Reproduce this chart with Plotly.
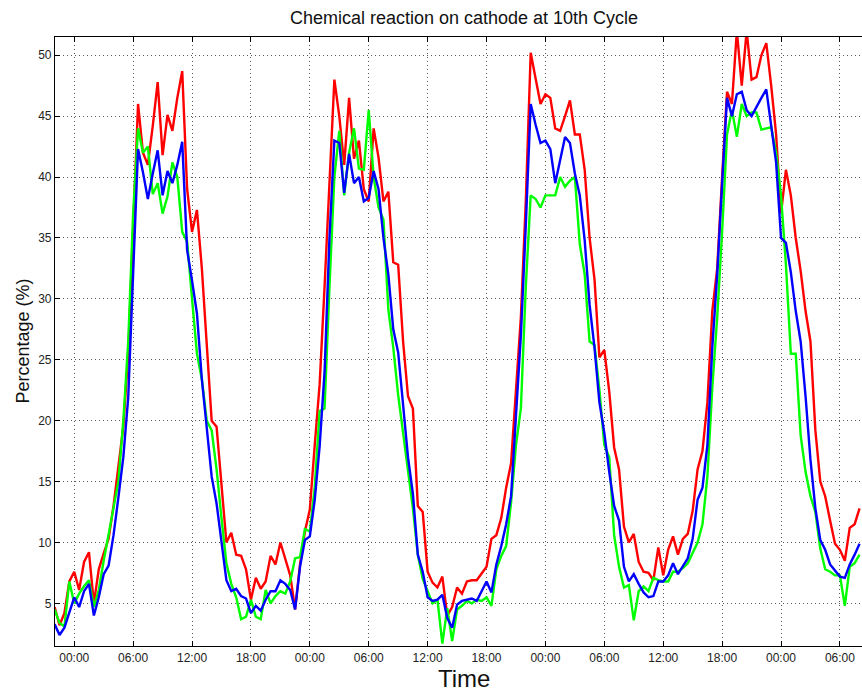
import pandas as pd
import plotly.graph_objects as go

# Time stamps: half-hourly samples starting 22:00 the day before the first 00:00 tick
start_time = "2013-01-01 22:00"
n_points = 165
times = pd.date_range(start=start_time, periods=n_points, freq="30min")

red_values = [
    4.7, 3.2, 4.2, 6.8, 7.6, 6.1, 8.4, 9.2, 5.0, 7.8,
    9.1, 10.3, 13.0, 16.5, 19.5, 25.5, 36.0, 46.0, 42.0, 41.0,
    44.2, 47.8, 41.8, 45.1, 43.8, 46.5, 48.7, 39.0, 35.5, 37.3,
    32.5, 26.5, 20.0, 19.5, 15.0, 10.0, 10.8, 9.0, 8.9, 7.8,
    5.3, 7.1, 6.2, 6.8, 8.9, 8.2, 10.0, 8.6, 7.3, 4.5,
    8.2, 10.9, 12.7, 18.0, 23.0, 31.0, 39.5, 48.0, 45.0, 41.0,
    46.5, 41.5, 43.0, 39.0, 38.0, 44.0, 41.6, 38.0, 38.8, 33.0,
    32.8, 26.5, 22.0, 21.0, 13.0, 12.5, 7.6, 6.7, 6.3, 7.2,
    4.0, 4.7, 6.3, 5.8, 6.8, 6.9, 6.9, 7.5, 8.0, 10.3,
    10.6, 12.0, 14.5, 16.5, 22.4, 28.5, 38.0, 50.2, 48.1, 46.0,
    46.8, 46.5, 44.0, 43.8, 45.0, 46.3, 43.5, 43.5, 40.6, 35.0,
    31.6, 25.2, 25.8, 22.4, 17.8, 16.0, 11.3, 10.0, 10.7, 8.4,
    7.6, 7.5, 6.9, 9.6, 7.3, 9.4, 10.5, 9.0, 10.3, 10.7,
    12.6, 16.0, 17.5, 21.5, 29.0, 32.5, 40.0, 47.0, 46.0, 52.0,
    47.5, 52.0, 48.0, 48.2, 50.0, 51.0, 47.5, 43.5, 37.0, 40.6,
    38.5, 35.0, 32.3, 29.0, 26.5, 19.2, 15.0, 13.8, 11.8, 9.9,
    9.4, 8.5, 11.2, 11.5, 12.8,
]

green_values = [
    4.5, 3.4, 3.1, 6.8, 5.0, 5.8, 6.4, 6.9, 4.7, 6.1,
    8.5, 10.6, 13.0, 15.0, 20.0, 26.5, 37.0, 44.0, 42.0, 42.5,
    38.6, 39.5, 37.0, 38.4, 41.2, 40.0, 35.5, 34.7, 30.0, 25.5,
    23.4, 20.0, 19.2, 16.0, 12.0, 8.3, 6.6, 5.5, 3.7, 3.9,
    5.3, 3.9, 3.7, 6.1, 5.0, 5.6, 6.0, 5.8, 6.8, 8.7,
    8.8, 11.1, 10.9, 14.5, 20.8, 21.0, 31.0, 40.0, 43.8, 38.5,
    42.0, 44.0, 40.7, 40.6, 45.5, 40.0, 37.5, 36.5, 29.1, 26.0,
    22.1, 19.0, 16.0, 12.8, 9.0, 7.0, 6.0, 5.0, 5.3, 1.7,
    4.6, 1.9, 4.5, 4.8, 5.2, 5.0, 5.3, 5.2, 5.5, 4.8,
    7.8, 8.9, 9.7, 13.3, 18.0, 21.0, 31.0, 38.5, 38.2, 37.5,
    38.5, 38.5, 38.5, 40.0, 39.2, 39.7, 40.0, 34.5, 32.0, 26.5,
    26.2, 22.5, 18.0, 17.0, 10.6, 8.0, 6.3, 6.5, 3.6, 6.0,
    6.4, 6.0, 7.1, 6.9, 6.8, 6.8, 7.6, 7.6, 7.9, 8.3,
    9.2, 10.0, 11.5, 15.4, 22.7, 28.5, 35.5, 43.5, 45.5, 43.3,
    46.0, 45.0, 45.3, 45.3, 43.9, 44.0, 44.1, 42.0, 38.5, 32.8,
    25.5, 25.5, 18.8, 15.8, 13.8, 12.5, 9.5, 7.8, 7.6, 7.3,
    7.3, 4.8, 8.0, 8.3, 9.0,
]

blue_values = [
    3.3, 2.4, 3.0, 4.2, 5.5, 4.7, 6.0, 6.6, 4.0, 5.5,
    7.4, 8.1, 10.6, 13.7, 17.0, 21.9, 31.5, 42.3, 40.4, 38.2,
    40.3, 42.2, 38.5, 40.5, 39.5, 41.0, 42.9, 34.0, 31.5, 28.8,
    23.4, 19.6, 15.4, 13.2, 10.0, 6.9, 6.0, 6.2, 5.6, 5.4,
    4.2, 4.8, 4.4, 5.3, 6.0, 6.0, 6.9, 6.6, 6.1, 4.5,
    8.0, 10.2, 10.5, 13.5, 17.9, 24.0, 35.0, 43.0, 42.8, 38.7,
    41.9, 39.5, 40.0, 38.0, 38.3, 40.5, 39.0, 35.0, 32.0, 27.5,
    25.6, 21.0, 17.0, 14.0, 9.0, 7.6, 5.5, 5.2, 5.3, 5.7,
    3.8, 3.0, 4.9, 5.2, 5.3, 5.4, 5.2, 6.0, 6.8, 5.9,
    8.2, 9.7, 11.5, 13.8, 20.0, 27.0, 36.0, 46.0, 44.3, 42.8,
    43.0, 42.3, 39.5, 41.5, 43.3, 42.8, 40.3, 38.5, 34.8, 29.5,
    26.0, 21.5, 19.0, 15.8, 13.0, 11.8, 8.0, 6.8, 7.4, 6.6,
    5.9, 5.5, 5.6, 6.8, 6.8, 7.3, 8.3, 7.4, 8.0, 8.7,
    10.3, 13.5, 14.5, 18.0, 26.0, 32.0, 39.5, 46.5, 45.0, 46.8,
    47.0, 45.5, 45.0, 45.8, 46.5, 47.2, 44.2, 41.2, 35.0, 34.6,
    32.2, 29.0, 26.5, 22.0, 16.8, 12.8, 10.2, 9.4, 8.2, 7.7,
    7.2, 7.1, 8.2, 9.0, 9.9,
]

series = [
    ("Red", red_values, "#ff0000"),
    ("Green", green_values, "#00ff00"),
    ("Blue", blue_values, "#0000ff"),
]

y_tick_values = [5, 10, 15, 20, 25, 30, 35, 40, 45, 50]
x_tick_start = "2013-01-02 00:00"
x_range = ["2013-01-01 22:02:24", "2013-01-05 08:15"]
y_range = [1.5, 51.5]

title_text = "Chemical reaction on cathode at 10th Cycle"
x_label = "Time"
y_label = "Percentage (%)"

font_family = "Liberation Sans, Arial, sans-serif"
grid_dash = "1px,3px"

fig = go.Figure()
for name, vals, color in series:
    fig.add_trace(go.Scatter(
        x=times, y=vals, mode="lines", name=name,
        line=dict(color=color, width=2.4),
    ))

fig.update_layout(
    width=862, height=691,
    margin=dict(l=55, r=0, t=37, b=45),
    paper_bgcolor="white", plot_bgcolor="white",
    showlegend=False,
    font=dict(family=font_family, size=12, color="#222222"),
    title=dict(text=title_text, x=464 / 862, xref="container", xanchor="center",
               y=1 - 18 / 691, yref="container", yanchor="middle",
               font=dict(size=18, color="#111111", family=font_family)),
)

fig.update_xaxes(
    type="date", range=x_range,
    tick0=x_tick_start, dtick=6 * 3600 * 1000, tickformat="%H:%M",
    ticks="inside", ticklen=5, tickcolor="black",
    showline=True, linecolor="black", linewidth=1.2, mirror="ticks",
    showgrid=True, gridcolor="#555555", griddash=grid_dash, gridwidth=1,
    zeroline=False,
    tickfont=dict(size=12, family=font_family, color="#222222"),
)
fig.update_yaxes(
    range=y_range, tickvals=y_tick_values,
    ticks="inside", ticklen=5, tickcolor="black",
    showline=True, linecolor="black", linewidth=1.2, mirror=False,
    showgrid=True, gridcolor="#555555", griddash=grid_dash, gridwidth=1,
    zeroline=False,
    tickfont=dict(size=12, family=font_family, color="#222222"),
)

fig.add_annotation(text=x_label, xref="paper", yref="paper",
                   x=(464 - 55) / 807, y=-(678 - 646) / 609,
                   xanchor="center", yanchor="middle", showarrow=False,
                   font=dict(size=24, family=font_family, color="#111111"))
fig.add_annotation(text=y_label, xref="paper", yref="paper",
                   x=-(55 - 22) / 807, y=0.5, textangle=-90,
                   xanchor="center", yanchor="middle", showarrow=False,
                   font=dict(size=18, family=font_family, color="#111111"))

fig.write_html("out.html")
